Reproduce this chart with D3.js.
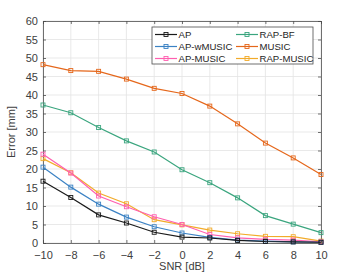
<!DOCTYPE html>
<html>
<head>
<meta charset="utf-8">
<script src="https://cdn.jsdelivr.net/npm/d3@7"></script>
<style>
  body { margin: 0; background: #fff; }
  svg text { font-family: "Liberation Sans", Arial, sans-serif; fill: #262626; }
</style>
</head>
<body>
<div id="chart"></div>
<script>
var snr = [-10, -8, -6, -4, -2, 0, 2, 4, 6, 8, 10];
var yTicks = [0, 5, 10, 15, 20, 25, 30, 35, 40, 45, 50, 55, 60];

var apErr       = [16.7, 12.3, 7.6, 5.4, 2.9, 1.6, 1.35, 0.7, 0.4, 0.3, 0.2];
var apwMusicErr = [20.5, 15.1, 10.5, 7.0, 4.4, 2.7, 1.5, 0.8, 0.5, 0.3, 0.2];
var apMusicErr  = [24.0, 18.9, 12.7, 9.8, 7.1, 5.0, 2.3, 1.4, 1.0, 0.8, 0.3];
var rapBfErr    = [37.3, 35.2, 31.2, 27.6, 24.6, 19.8, 16.3, 12.2, 7.4, 5.1, 2.8];
var musicErr    = [48.2, 46.6, 46.4, 44.3, 41.8, 40.4, 37.0, 32.2, 27.0, 23.0, 18.5];
var rapMusicErr = [22.8, 19.0, 13.5, 10.6, 6.3, 4.9, 3.5, 2.5, 1.8, 1.7, 0.5];

var series = [
  { name: "AP", values: apErr, color: "#1a1a1a" },
  { name: "AP-wMUSIC", values: apwMusicErr, color: "#3b82c4" },
  { name: "AP-MUSIC", values: apMusicErr, color: "#ff5fb0" },
  { name: "RAP-BF", values: rapBfErr, color: "#3aa57e" },
  { name: "MUSIC", values: musicErr, color: "#e5671b" },
  { name: "RAP-MUSIC", values: rapMusicErr, color: "#f2ab2a" }
];
// draw order so that lower lines sit on top like the reference
var drawOrder = ["RAP-BF", "MUSIC", "RAP-MUSIC", "AP-MUSIC", "AP-wMUSIC", "AP"];

var svgWidth = 350, svgHeight = 275;
var margin = { top: 21, right: 29, bottom: 32, left: 43 };
var width = svgWidth - margin.left - margin.right;
var height = svgHeight - margin.top - margin.bottom;

var svg = d3.select("#chart").append("svg")
    .attr("width", svgWidth)
    .attr("height", svgHeight);

var g = svg.append("g")
    .attr("transform", "translate(" + margin.left + "," + margin.top + ")");

var x = d3.scaleLinear().domain([-10, 10]).range([0, width]);
var y = d3.scaleLinear().domain([0, 60]).range([height, 0]);

// grid
g.append("g").selectAll("line.vg")
    .data(snr)
    .enter().append("line")
    .attr("x1", d => x(d)).attr("x2", d => x(d))
    .attr("y1", 0).attr("y2", height)
    .style("stroke", "#e3e3e3").style("stroke-width", 0.8);
g.append("g").selectAll("line.hg")
    .data(yTicks)
    .enter().append("line")
    .attr("x1", 0).attr("x2", width)
    .attr("y1", d => y(d)).attr("y2", d => y(d))
    .style("stroke", "#e3e3e3").style("stroke-width", 0.8);

// axes
var tickLen = 3;
var xAxis = g.append("g")
    .attr("transform", "translate(0," + height + ")")
    .call(d3.axisBottom(x).tickValues(snr).tickSize(-tickLen).tickPadding(8));
var yAxis = g.append("g")
    .call(d3.axisLeft(y).tickValues(yTicks).tickSize(-tickLen).tickPadding(5));
var xTop = g.append("g")
    .call(d3.axisTop(x).tickValues(snr).tickSize(-tickLen).tickFormat(""));
var yRight = g.append("g")
    .attr("transform", "translate(" + width + ",0)")
    .call(d3.axisRight(y).tickValues(yTicks).tickSize(-tickLen).tickFormat(""));

[xAxis, yAxis, xTop, yRight].forEach(function(a) {
    a.selectAll("path").style("stroke", "#4d4d4d").style("stroke-width", 0.8);
    a.selectAll("line").style("stroke", "#4d4d4d").style("stroke-width", 0.8);
    a.selectAll("text").style("font-size", "11px").style("fill", "#404040")
      .style("font-family", "Liberation Sans, Arial, sans-serif");
});

// lines
var line = d3.line()
    .x((d, i) => x(snr[i]))
    .y(d => y(d));

drawOrder.forEach(function(name) {
    var s = series.find(d => d.name === name);
    var sg = g.append("g");
    sg.append("path")
        .attr("d", line(s.values))
        .style("fill", "none")
        .style("stroke", s.color)
        .style("stroke-width", 1.2);
    sg.selectAll("rect")
        .data(s.values)
        .enter().append("rect")
        .attr("x", (d, i) => x(snr[i]) - 2)
        .attr("y", d => y(d) - 2)
        .attr("width", 4).attr("height", 4)
        .style("fill", "none")
        .style("stroke", s.color)
        .style("stroke-width", 0.9);
});

// labels
svg.append("text")
    .attr("x", margin.left + width / 2)
    .attr("y", 270)
    .attr("text-anchor", "middle")
    .style("font-size", "11px")
    .style("fill", "#404040")
    .text("SNR [dB]");

svg.append("text")
    .attr("transform", "translate(15," + (margin.top + height / 2) + ") rotate(-90)")
    .attr("text-anchor", "middle")
    .style("font-size", "11px")
    .style("fill", "#404040")
    .text("Error [mm]");

// legend
var legend = svg.append("g").attr("transform", "translate(152,27)");
legend.append("rect")
    .attr("width", 161).attr("height", 37)
    .style("fill", "#fff")
    .style("stroke", "#4d4d4d")
    .style("stroke-width", 0.8);

var legendCols = [
    ["AP", "AP-wMUSIC", "AP-MUSIC"],
    ["RAP-BF", "MUSIC", "RAP-MUSIC"]
];
var colX = [3, 84];
legendCols.forEach(function(col, ci) {
    col.forEach(function(name, ri) {
        var s = series.find(d => d.name === name);
        var cy = 7.5 + ri * 12;
        var lg = legend.append("g").attr("transform", "translate(" + colX[ci] + "," + cy + ")");
        lg.append("line")
            .attr("x1", 0).attr("x2", 22)
            .style("stroke", s.color).style("stroke-width", 1.2);
        lg.append("rect")
            .attr("x", 9).attr("y", -2).attr("width", 4).attr("height", 4)
            .style("fill", "none").style("stroke", s.color).style("stroke-width", 0.9);
        lg.append("text")
            .attr("x", 23.5).attr("dy", "0.35em")
            .style("font-size", "9.6px")
            .style("fill", "#262626")
            .text(name);
    });
});
</script>
</body>
</html>
